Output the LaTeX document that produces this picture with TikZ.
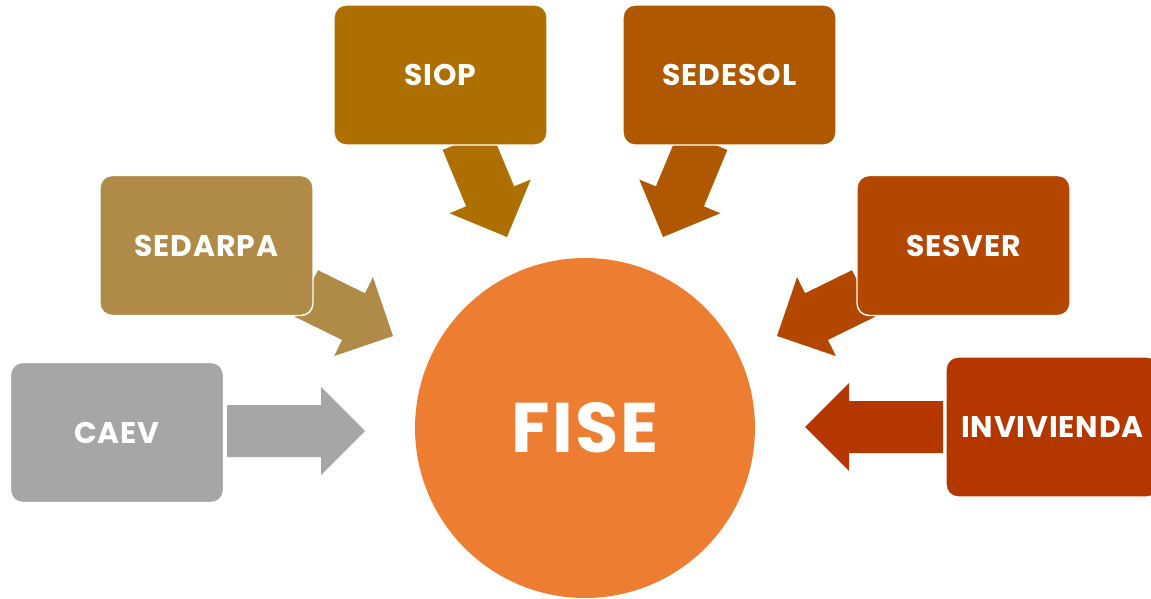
\documentclass[tikz,border=0pt]{standalone}
\usepackage{fontspec}
\setmainfont{Poppins}[LetterSpace=3]
\usetikzlibrary{calc}
\definecolor{cSiop}{HTML}{AD7000}
\definecolor{cSedesol}{HTML}{B05800}
\definecolor{cSedarpa}{HTML}{B08B47}
\definecolor{cSesver}{HTML}{B34700}
\definecolor{cInvi}{HTML}{B43700}
\definecolor{cCaev}{HTML}{A6A6A6}
\definecolor{cFise}{HTML}{ED7D31}
% block arrow: tail, tip, colour
\newcommand{\flecha}[3]{%
	\coordinate (hb) at ($(#2)!0.88cm!(#1)$);
	\fill[#3] ($(#1)!0.52cm!90:(#2)$) -- ($(hb)!0.52cm!-90:(#1)$) -- ($(hb)!0.88cm!-90:(#1)$) -- (#2)
		-- ($(hb)!0.88cm!90:(#1)$) -- ($(hb)!0.52cm!90:(#1)$) -- ($(#1)!0.52cm!-90:(#2)$) -- cycle;}
\begin{document}
\begin{tikzpicture}[x=0.02cm, y=-0.02cm, line join=round,
		caja/.style={rectangle, rounded corners=0.24cm, draw=white, line width=0.8pt, minimum width=4.26cm, minimum height=2.8cm, text=white, font=\bfseries\fontsize{17}{20}\selectfont}]
	\useasboundingbox (0,0) rectangle (1151,598);
	\coordinate (caevT) at (227,431);
	\coordinate (caevP) at (365,431);
	\coordinate (inviT) at (943,427);
	\coordinate (inviP) at (805,427);
	\coordinate (sedarpaT) at (306.5,293.5);
	\coordinate (sedarpaP) at (393,336);
	\coordinate (sesverT) at (863.5,293.5);
	\coordinate (sesverP) at (777,336);
	\coordinate (siopT) at (466.7,140);
	\coordinate (siopP) at (507,237);
	\coordinate (sedesolT) at (703.3,140);
	\coordinate (sedesolP) at (663,237);
	\flecha{caevT}{caevP}{cCaev}
	\flecha{inviT}{inviP}{cInvi}
	\flecha{sedarpaT}{sedarpaP}{cSedarpa}
	\flecha{sesverT}{sesverP}{cSesver}
	\flecha{siopT}{siopP}{cSiop}
	\flecha{sedesolT}{sedesolP}{cSedesol}
	\node[caja, fill=cSiop] (siop) at (440.5,75) {SIOP};
	\node[caja, fill=cSedesol] (sedesol) at (729.5,75) {SEDESOL};
	\node[caja, fill=cSedarpa] (sedarpa) at (206.5,245.5) {SEDARPA};
	\node[caja, fill=cSesver] (sesver) at (963.5,245.5) {SESVER};
	\node[caja, fill=cCaev] (caev) at (117,432.5) {CAEV};
	\node[caja, fill=cInvi] (invi) at (1052.5,427) {INVIVIENDA};
	\node[circle, fill=cFise, minimum size=6.8cm, text=white, font=\bfseries\fontsize{40}{46}\selectfont] (fise) at (585,428) {FISE};
\end{tikzpicture}
\end{document}
